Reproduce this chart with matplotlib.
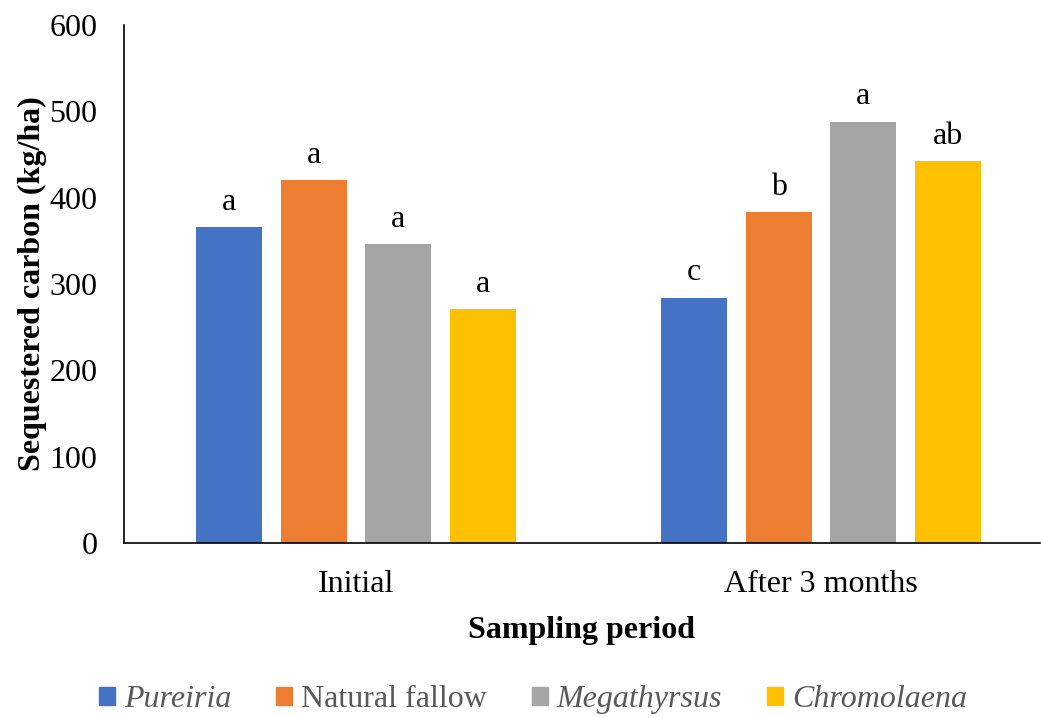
import numpy as np
import matplotlib.pyplot as plt
from matplotlib.patches import Patch

plt.rcParams['font.family'] = ['Liberation Serif', 'DejaVu Serif']

# data
periods = ["Initial", "After 3 months"]
species = ["Pureiria", "Natural fallow", "Megathyrsus", "Chromolaena"]
italic = [True, False, True, True]
colors = ["#4472C4", "#ED7D31", "#A5A5A5", "#FFC000"]
carbon = {
    "Pureiria": [366, 284],
    "Natural fallow": [420, 383],
    "Megathyrsus": [346, 488],
    "Chromolaena": [271, 442],
}
letters = {
    "Pureiria": ["a", "c"],
    "Natural fallow": ["a", "b"],
    "Megathyrsus": ["a", "a"],
    "Chromolaena": ["a", "ab"],
}

fs = 23

fig = plt.figure(figsize=(10.41, 7.17), dpi=100)
ax = fig.add_axes([124 / 1041, 1 - 543 / 717, (1040 - 124) / 1041, (543 - 25) / 717])

x = np.arange(len(periods))
step = 0.182
width = 0.142
for i, sp in enumerate(species):
    pos = x + (i - 1.5) * step
    ax.bar(pos, carbon[sp], width, color=colors[i])
    for p, v, lab in zip(pos, carbon[sp], letters[sp]):
        ax.text(p, v + 12, lab, ha="center", va="bottom", fontsize=fs)

ax.set_ylim(0, 600)
ax.set_xlim(-0.499, 1.471)
ax.set_yticks(range(0, 601, 100))
ax.set_xticks(x)
ax.set_xticklabels(periods)
ax.tick_params(length=0, labelsize=fs)
ax.tick_params(axis="y", pad=19)
ax.tick_params(axis="x", pad=19.5)
for s in ["top", "right"]:
    ax.spines[s].set_visible(False)
ax.spines["left"].set_linewidth(1.2)
ax.spines["bottom"].set_linewidth(1.2)

ax.set_ylabel("Sequestered carbon (kg/ha)", fontsize=fs, fontweight="bold", labelpad=2)
ax.set_xlabel("Sampling period", fontsize=fs, fontweight="bold", labelpad=12)

handles = [Patch(color=c) for c in colors]
leg = fig.legend(handles, species, loc="lower center", bbox_to_anchor=(0.512, -0.036),
                 ncol=4, frameon=False, fontsize=fs, handlelength=0.5, handleheight=0.5,
                 handletextpad=0.28, columnspacing=1.4)
for t, it in zip(leg.get_texts(), italic):
    t.set_color("#595959")
    if it:
        t.set_style("italic")

fig.savefig("out.png", dpi=100)
